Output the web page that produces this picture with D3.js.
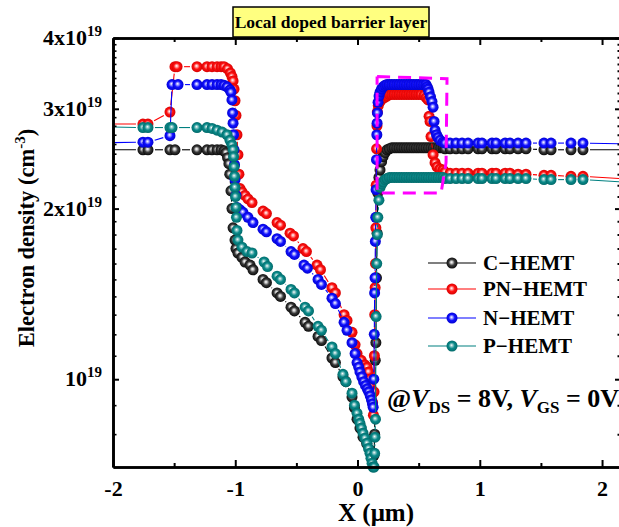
<!DOCTYPE html>
<html>
<head>
<meta charset="utf-8">
<script src="https://cdn.jsdelivr.net/npm/d3@7/dist/d3.min.js"></script>
<style>
html,body{margin:0;padding:0;background:#fff;}
svg{display:block;}
text{font-family:"Liberation Serif","Times New Roman",Times,serif;font-weight:bold;fill:#000;}
</style>
</head>
<body>
<svg id="chart" width="619" height="527"></svg>
<script>
// ---------------- DATA (electron density in units of 1e19 cm^-3, X in µm) ----------------
const UNIT = 1e19;
const xMajorTicks = [-2, -1, 0, 1, 2];
const xMinorTicks = [-1.5, -0.5, 0.5, 1.5];
const yMajorTicks = [1e19, 2e19, 3e19, 4e19];
const yMajorLabels = [["10", "19"], ["2x10", "19"], ["3x10", "19"], ["4x10", "19"]];
const yMinorTicks = [8e18, 9e18, 1.1e19, 1.2e19, 1.3e19, 1.4e19, 1.5e19, 1.6e19, 1.7e19, 1.8e19, 1.9e19,
  2.1e19, 2.2e19, 2.3e19, 2.4e19, 2.5e19, 2.6e19, 2.7e19, 2.8e19, 2.9e19,
  3.1e19, 3.2e19, 3.3e19, 3.4e19, 3.5e19, 3.6e19, 3.7e19, 3.8e19, 3.9e19];

const seriesNames = ["C\u2212HEMT", "PN\u2212HEMT", "N\u2212HEMT", "P\u2212HEMT"];
const seriesColors = ["#000000", "#ff0000", "#0000ff", "#008080"];

const cHEMT = [[-2.2,2.54],[-1.755,2.54],[-1.714,2.54],[-1.534,2.54],[-1.493,2.54],[-1.313,2.54],[-1.231,2.54],[-1.190,2.54],[-1.149,2.54],[-1.116,2.54],[-1.092,2.53],[-1.076,2.51],[-1.063,2.46],[-1.052,2.40],[-1.045,2.30],[-1.035,2.15],[-1.027,2.00],[-1.018,1.85],[-1.002,1.76],[-0.994,1.70],[-0.978,1.67],[-0.945,1.64],[-0.920,1.61],[-0.879,1.59],[-0.855,1.56],[-0.773,1.50],[-0.745,1.48],[-0.658,1.42],[-0.630,1.40],[-0.544,1.34],[-0.516,1.32],[-0.429,1.26],[-0.401,1.24],[-0.323,1.19],[-0.295,1.17],[-0.209,1.09],[-0.181,1.07],[-0.119,1.01],[-0.095,0.99],[-0.045,0.93],[-0.025,0.89],[-0.004,0.85],[0.020,0.82],[0.045,0.79],[0.075,0.77],[0.102,0.75],[0.120,0.74],[0.135,0.734],[0.140,0.80],[0.145,1.08],[0.150,1.16],[0.155,1.51],[0.160,1.81],[0.166,2.13],[0.175,2.27],[0.184,2.34],[0.197,2.42],[0.209,2.47],[0.225,2.51],[0.241,2.54],[0.26,2.55],[0.28,2.56],[0.30,2.56],[0.32,2.56],[0.34,2.56],[0.36,2.56],[0.38,2.56],[0.40,2.56],[0.42,2.56],[0.44,2.56],[0.46,2.56],[0.48,2.56],[0.50,2.56],[0.52,2.56],[0.54,2.56],[0.56,2.56],[0.58,2.56],[0.60,2.56],[0.62,2.56],[0.64,2.56],[0.66,2.56],[0.68,2.56],[0.70,2.56],[0.716,2.55],[0.757,2.55],[0.806,2.55],[0.855,2.55],[0.904,2.55],[0.986,2.55],[1.018,2.55],[1.100,2.55],[1.133,2.55],[1.207,2.55],[1.247,2.55],[1.313,2.55],[1.378,2.55],[1.525,2.54],[1.583,2.54],[1.746,2.54],[1.844,2.54],[2.3,2.54]];

const pnHEMT = [[-2.2,2.82],[-1.755,2.82],[-1.714,2.82],[-1.534,2.96],[-1.493,3.56],[-1.476,3.56],[-1.313,3.56],[-1.231,3.56],[-1.190,3.56],[-1.149,3.56],[-1.116,3.56],[-1.092,3.56],[-1.063,3.53],[-1.040,3.47],[-1.027,3.42],[-1.018,3.36],[-1.010,3.25],[-1.002,3.10],[-0.994,2.92],[-0.986,2.70],[-0.978,2.49],[-0.970,2.30],[-0.961,2.17],[-0.945,2.14],[-0.920,2.11],[-0.896,2.08],[-0.863,2.05],[-0.773,1.98],[-0.745,1.96],[-0.658,1.89],[-0.630,1.87],[-0.552,1.81],[-0.524,1.79],[-0.446,1.70],[-0.418,1.68],[-0.331,1.59],[-0.303,1.56],[-0.209,1.45],[-0.181,1.42],[-0.110,1.30],[-0.086,1.27],[-0.045,1.21],[-0.020,1.15],[-0.004,1.11],[0.030,1.08],[0.060,1.06],[0.078,1.05],[0.090,1.03],[0.100,1.00],[0.108,0.97],[0.116,0.94],[0.123,0.91],[0.130,0.864],[0.135,0.95],[0.138,1.10],[0.141,1.30],[0.144,1.45],[0.147,1.60],[0.150,1.85],[0.153,2.20],[0.156,2.55],[0.159,2.80],[0.162,2.96],[0.170,3.04],[0.184,3.09],[0.200,3.12],[0.220,3.14],[0.241,3.16],[0.26,3.18],[0.28,3.18],[0.30,3.18],[0.32,3.18],[0.34,3.18],[0.36,3.18],[0.38,3.18],[0.40,3.18],[0.42,3.18],[0.44,3.18],[0.46,3.18],[0.48,3.18],[0.50,3.18],[0.52,3.18],[0.545,3.17],[0.562,3.14],[0.577,3.11],[0.585,2.91],[0.593,2.85],[0.601,2.68],[0.618,2.49],[0.634,2.41],[0.650,2.37],[0.675,2.35],[0.699,2.34],[0.716,2.32],[0.757,2.31],[0.806,2.31],[0.855,2.31],[0.904,2.31],[0.986,2.31],[1.018,2.31],[1.100,2.31],[1.133,2.31],[1.207,2.31],[1.247,2.31],[1.313,2.30],[1.378,2.30],[1.525,2.29],[1.583,2.29],[1.746,2.28],[1.844,2.28],[2.3,2.25]];

const nHEMT = [[-2.2,2.61],[-1.755,2.62],[-1.714,2.62],[-1.534,2.69],[-1.517,3.31],[-1.468,3.31],[-1.313,3.31],[-1.231,3.31],[-1.190,3.31],[-1.149,3.31],[-1.116,3.31],[-1.092,3.30],[-1.067,3.28],[-1.043,3.24],[-1.035,3.21],[-1.027,3.11],[-1.022,2.95],[-1.018,2.83],[-1.014,2.70],[-1.010,2.54],[-1.006,2.39],[-1.002,2.25],[-0.994,2.11],[-0.986,2.01],[-0.961,1.99],[-0.937,1.97],[-0.896,1.93],[-0.855,1.89],[-0.773,1.84],[-0.745,1.82],[-0.658,1.77],[-0.630,1.75],[-0.544,1.68],[-0.516,1.66],[-0.438,1.59],[-0.410,1.57],[-0.323,1.50],[-0.295,1.47],[-0.209,1.39],[-0.181,1.36],[-0.110,1.26],[-0.086,1.22],[-0.045,1.16],[-0.020,1.11],[-0.004,1.07],[0.010,1.05],[0.020,1.03],[0.035,1.01],[0.050,0.99],[0.065,0.975],[0.080,0.962],[0.092,0.95],[0.104,0.935],[0.114,0.92],[0.122,0.905],[0.128,0.892],[0.133,1.00],[0.137,1.20],[0.140,1.42],[0.143,1.51],[0.146,1.75],[0.149,1.93],[0.152,2.16],[0.155,2.44],[0.158,2.70],[0.160,2.83],[0.163,2.95],[0.168,3.08],[0.176,3.16],[0.184,3.21],[0.196,3.25],[0.209,3.28],[0.225,3.30],[0.241,3.31],[0.26,3.31],[0.28,3.31],[0.30,3.31],[0.32,3.31],[0.34,3.31],[0.36,3.31],[0.38,3.31],[0.40,3.31],[0.42,3.31],[0.44,3.31],[0.46,3.31],[0.48,3.31],[0.50,3.31],[0.52,3.31],[0.54,3.31],[0.56,3.31],[0.569,3.28],[0.577,3.25],[0.585,3.21],[0.597,3.15],[0.609,3.09],[0.618,3.02],[0.626,2.85],[0.634,2.75],[0.646,2.70],[0.658,2.67],[0.675,2.64],[0.699,2.62],[0.716,2.61],[0.757,2.61],[0.806,2.61],[0.855,2.61],[0.904,2.61],[0.986,2.61],[1.018,2.61],[1.100,2.61],[1.133,2.61],[1.207,2.61],[1.247,2.61],[1.313,2.61],[1.378,2.61],[1.525,2.61],[1.583,2.61],[1.746,2.61],[1.844,2.61],[2.3,2.60]];

const pHEMT = [[-2.2,2.79],[-1.755,2.78],[-1.714,2.78],[-1.534,2.78],[-1.517,2.78],[-1.313,2.78],[-1.231,2.78],[-1.190,2.77],[-1.149,2.75],[-1.108,2.73],[-1.067,2.70],[-1.043,2.64],[-1.027,2.59],[-1.018,2.54],[-1.014,2.47],[-1.010,2.37],[-1.006,2.28],[-1.002,2.18],[-0.998,2.10],[-0.994,2.01],[-0.990,1.93],[-0.986,1.83],[-0.978,1.76],[-0.945,1.71],[-0.904,1.68],[-0.863,1.67],[-0.764,1.61],[-0.736,1.58],[-0.658,1.52],[-0.630,1.50],[-0.544,1.44],[-0.516,1.42],[-0.429,1.34],[-0.401,1.32],[-0.323,1.24],[-0.295,1.22],[-0.209,1.14],[-0.181,1.11],[-0.119,1.02],[-0.095,0.99],[-0.045,0.945],[-0.025,0.90],[-0.004,0.871],[0.010,0.85],[0.020,0.836],[0.032,0.82],[0.045,0.803],[0.060,0.787],[0.078,0.771],[0.090,0.755],[0.102,0.740],[0.110,0.725],[0.119,0.711],[0.127,0.700],[0.135,0.700],[0.140,0.74],[0.143,0.79],[0.147,0.85],[0.152,1.29],[0.157,1.60],[0.162,1.80],[0.166,1.93],[0.175,2.07],[0.184,2.18],[0.197,2.21],[0.209,2.23],[0.225,2.25],[0.241,2.26],[0.26,2.27],[0.28,2.27],[0.30,2.27],[0.32,2.27],[0.34,2.27],[0.36,2.27],[0.38,2.27],[0.40,2.27],[0.42,2.27],[0.44,2.27],[0.46,2.27],[0.48,2.27],[0.50,2.27],[0.52,2.27],[0.54,2.27],[0.56,2.27],[0.58,2.27],[0.60,2.27],[0.62,2.27],[0.64,2.27],[0.66,2.27],[0.68,2.27],[0.70,2.27],[0.716,2.26],[0.757,2.26],[0.806,2.26],[0.855,2.26],[0.904,2.26],[0.986,2.26],[1.018,2.26],[1.100,2.26],[1.133,2.26],[1.207,2.26],[1.247,2.26],[1.313,2.26],[1.378,2.26],[1.525,2.25],[1.583,2.25],[1.746,2.25],[1.844,2.25],[2.3,2.22]];

const seriesData = [cHEMT, pnHEMT, nHEMT, pHEMT];

// dashed highlight (local doped barrier region), in data units
const highlightBox = [[0.160,3.42],[0.732,3.39],[0.724,2.41],[0.683,2.13],[0.160,2.13],[0.160,3.42]];

// ---------------- DRAWING ----------------
const svg = d3.select("#chart");
const X0 = 113, X1 = 621, Y0 = 467, Y1 = 38;
const xDomain = [-2, 2.155];
const x = d3.scaleLinear().domain(xDomain).range([X0, X1]);
const y = d3.scaleLog().domain([7e18, 4e19]).range([Y0, Y1]);

const defs = svg.append("defs");
defs.append("clipPath").attr("id", "plotclip").append("rect")
  .attr("x", X0).attr("y", Y1).attr("width", X1 - X0).attr("height", Y0 - Y1);

const gradStops = [
  ["#ffffff", "#cfcfcf", "#3a3a3a", "#000000"],
  ["#ffffff", "#ffb0b0", "#ff1010", "#d00000"],
  ["#ffffff", "#b0b0ff", "#1010ff", "#0000c8"],
  ["#ffffff", "#9fd0d0", "#0a8a8a", "#006464"]
];
gradStops.forEach((s, i) => {
  const g = defs.append("radialGradient").attr("id", "ball" + i)
    .attr("cx", "0.5").attr("cy", "0.5").attr("r", "0.55").attr("fx", "0.45").attr("fy", "0.42");
  g.append("stop").attr("offset", "0").attr("stop-color", s[0]);
  g.append("stop").attr("offset", "0.18").attr("stop-color", s[1]);
  g.append("stop").attr("offset", "0.5").attr("stop-color", s[2]);
  g.append("stop").attr("offset", "1").attr("stop-color", s[3]);
});

const R = 5.5, GAP = 1.5;

function drawSeries(data, i) {
  const color = seriesColors[i];
  const pts = data.map(d => ({
    px: x(d[0]), py: y(d[1] * UNIT),
    vis: d[0] >= xDomain[0] && d[0] <= xDomain[1]
  }));
  const g = svg.append("g");
  const lg = g.append("g").attr("clip-path", "url(#plotclip)");
  for (let k = 0; k < pts.length - 1; k++) {
    const a = pts[k], b = pts[k + 1];
    const dx = b.px - a.px, dy = b.py - a.py, L = Math.hypot(dx, dy);
    const ga = a.vis ? R + GAP : 0, gb = b.vis ? R + GAP : 0;
    if (L <= ga + gb) continue;
    const ux = dx / L, uy = dy / L;
    lg.append("line")
      .attr("x1", a.px + ux * ga).attr("y1", a.py + uy * ga)
      .attr("x2", b.px - ux * gb).attr("y2", b.py - uy * gb)
      .attr("stroke", color).attr("stroke-width", 1.1);
  }
  g.append("g").selectAll("circle").data(pts.filter(p => p.vis)).join("circle")
    .attr("cx", p => p.px).attr("cy", p => p.py).attr("r", R)
    .attr("fill", `url(#ball${i})`);
}
seriesData.forEach((d, i) => drawSeries(d, i));

// highlight box
svg.append("path")
  .attr("d", d3.line().x(d => x(d[0])).y(d => y(d[1] * UNIT))(highlightBox))
  .attr("fill", "none").attr("stroke", "#ff00ff").attr("stroke-width", 3)
  .attr("stroke-dasharray", "13,8");

// ---------------- AXES ----------------
function styleAxis(g) {
  g.select(".domain").attr("stroke", "#000").attr("stroke-width", 2.6);
  g.selectAll(".tick line").attr("stroke", "#000").attr("stroke-width", 2);
}
const axB = svg.append("g").attr("transform", `translate(0,${Y0})`)
  .call(d3.axisBottom(x).tickValues(xMajorTicks).tickSize(-7).tickSizeOuter(0).tickPadding(13).tickFormat(d => String(d)));
styleAxis(axB);
axB.selectAll(".tick text").attr("font-size", 22).attr("font-family", "Liberation Serif").attr("font-weight", "bold");
const axBm = svg.append("g").attr("transform", `translate(0,${Y0})`)
  .call(d3.axisBottom(x).tickValues(xMinorTicks).tickSize(-4).tickSizeOuter(0).tickFormat(""));
styleAxis(axBm);

const axT = svg.append("g").attr("transform", `translate(0,${Y1})`)
  .call(d3.axisTop(x).tickValues(xMajorTicks).tickSize(-7).tickSizeOuter(0).tickFormat(""));
styleAxis(axT);
const axTm = svg.append("g").attr("transform", `translate(0,${Y1})`)
  .call(d3.axisTop(x).tickValues(xMinorTicks).tickSize(-4).tickSizeOuter(0).tickFormat(""));
styleAxis(axTm);

const axL = svg.append("g").attr("transform", `translate(${X0},0)`)
  .call(d3.axisLeft(y).tickValues(yMajorTicks).tickSize(-6).tickSizeOuter(0).tickFormat(""));
styleAxis(axL);
const axLm = svg.append("g").attr("transform", `translate(${X0},0)`)
  .call(d3.axisLeft(y).tickValues(yMinorTicks).tickSize(-3.5).tickSizeOuter(0).tickFormat(""));
styleAxis(axLm);
axLm.selectAll(".tick line").attr("stroke-width", 1.6);

const axR = svg.append("g").attr("transform", `translate(${X1},0)`)
  .call(d3.axisRight(y).tickValues(yMajorTicks).tickSize(-6).tickSizeOuter(0).tickFormat(""));
styleAxis(axR);
const axRm = svg.append("g").attr("transform", `translate(${X1},0)`)
  .call(d3.axisRight(y).tickValues(yMinorTicks).tickSize(-3.5).tickSizeOuter(0).tickFormat(""));
styleAxis(axRm);

// y tick labels with superscripts
yMajorTicks.forEach((v, i) => {
  const t = svg.append("text").attr("x", X0 - 11).attr("y", y(v) + 7)
    .attr("text-anchor", "end").attr("font-size", 22);
  t.append("tspan").text(yMajorLabels[i][0]);
  t.append("tspan").attr("dy", -9).attr("font-size", 15).text(yMajorLabels[i][1]);
});

// axis titles
svg.append("text").attr("x", 376).attr("y", 521).attr("text-anchor", "middle").attr("font-size", 25)
  .text("X (\u03bcm)");
const yl = svg.append("text").attr("transform", "translate(34,238) rotate(-90)")
  .attr("text-anchor", "middle").attr("font-size", 22.5);
yl.append("tspan").text("Electron density (cm");
yl.append("tspan").attr("dy", -9).attr("font-size", 15).text("-3");
yl.append("tspan").attr("dy", 9).text(")");

// title box
svg.append("rect").attr("x", 233).attr("y", 7).attr("width", 196).attr("height", 30)
  .attr("fill", "#ffff80").attr("stroke", "#000").attr("stroke-width", 1.5);
svg.append("text").attr("x", 331).attr("y", 28).attr("text-anchor", "middle").attr("font-size", 17.5)
  .text("Local doped barrier layer");

// legend
const legRows = [263, 289, 318, 346];
seriesNames.forEach((name, i) => {
  const g = svg.append("g").attr("transform", `translate(0,${legRows[i]})`);
  g.append("line").attr("x1", 428).attr("x2", 476).attr("y1", 0).attr("y2", 0)
    .attr("stroke", seriesColors[i]).attr("stroke-width", 1.2);
  g.append("circle").attr("cx", 452).attr("cy", 0).attr("r", R).attr("fill", `url(#ball${i})`);
  g.append("text").attr("x", 483).attr("y", 7).attr("font-size", 21).text(name);
});

// condition annotation
const ann = svg.append("text").attr("x", 387).attr("y", 407).attr("font-size", 26);
ann.append("tspan").text("@");
ann.append("tspan").attr("font-style", "italic").text("V");
ann.append("tspan").attr("dy", 6).attr("font-size", 17).text("DS");
ann.append("tspan").attr("dy", -6).text(" = 8V, ");
ann.append("tspan").attr("font-style", "italic").text("V");
ann.append("tspan").attr("dy", 6).attr("font-size", 17).text("GS");
ann.append("tspan").attr("dy", -6).text(" = 0V");
</script>
</body>
</html>
